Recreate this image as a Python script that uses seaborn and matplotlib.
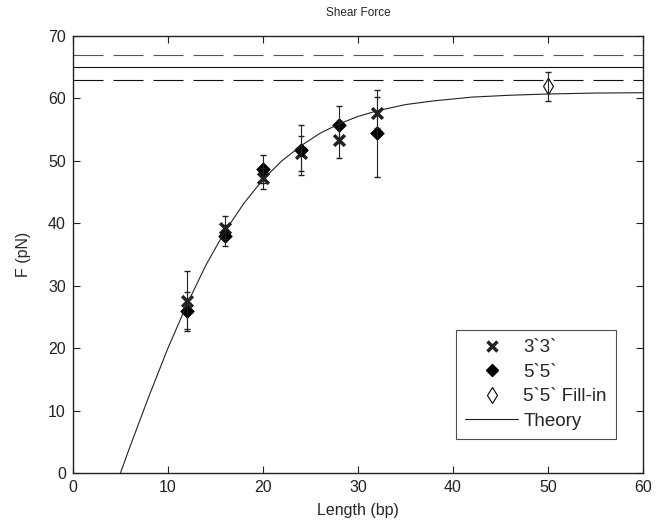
import matplotlib
matplotlib.use("Agg")
import matplotlib.pyplot as plt
from matplotlib.lines import Line2D
import seaborn as sns

# data
len_33 = [12, 16, 20, 24, 28, 32]
force_33 = [27.5, 39.3, 47.2, 51.2, 53.4, 57.7]
err_33 = [4.8, 1.8, 1.7, 2.8, 3.0, 2.5]

len_55 = [12, 16, 20, 24, 28, 32]
force_55 = [26.0, 38.0, 48.7, 51.8, 55.8, 54.4]
err_55 = [3.0, 1.7, 2.2, 4.0, 2.9, 7.0]

len_fill = [50]
force_fill = [61.9]
err_fill = [2.3]

theory_len = [5, 6, 8, 10, 12, 14, 16, 18, 20, 22, 24, 26, 28, 30, 32, 35, 38, 42, 46, 50, 55, 60]
theory_force = [0.0, 4.2, 12.3, 20.0, 27.0, 33.3, 38.7, 43.2, 47.0, 50.0, 52.4, 54.4,
                55.9, 57.1, 58.0, 59.0, 59.6, 60.2, 60.5, 60.7, 60.85, 60.9]

ref_lines = [67, 65, 63]
ref_styles = ["dashed", "solid", "dashed"]
ref_colors = ["#555555", "#111111", "#111111"]

sns.set_theme(style="ticks")
plt.rcParams["font.family"] = ["Liberation Sans", "DejaVu Sans"]

fig = plt.figure(figsize=(6.69, 5.28), dpi=100)
ax = fig.add_axes([0.109, 0.104, 0.852, 0.828])

for yv, ls, c in zip(ref_lines, ref_styles, ref_colors):
    dash = (0, (27, 9)) if ls == "dashed" else "-"
    ax.axhline(yv, color=c, lw=0.8, linestyle=dash)

sns.lineplot(x=theory_len, y=theory_force, ax=ax, color="#222222", lw=0.8)

ax.errorbar(len_33, force_33, yerr=err_33, fmt="none", ecolor="#222222", elinewidth=0.8, capsize=2)
ax.errorbar(len_55, force_55, yerr=err_55, fmt="none", ecolor="#222222", elinewidth=0.8, capsize=2)
ax.errorbar(len_fill, force_fill, yerr=err_fill, fmt="none", ecolor="#222222", elinewidth=0.8, capsize=2)

sns.scatterplot(x=len_33, y=force_33, ax=ax, marker="x", s=60, color="#222222", linewidth=2.5)
sns.scatterplot(x=len_55, y=force_55, ax=ax, marker="D", s=48, color="black", edgecolor="black")
sns.scatterplot(x=len_fill, y=force_fill, ax=ax, marker="d", s=70, facecolor="white",
                edgecolor="black", linewidth=0.8)

ax.set_xlim(0, 60)
ax.set_ylim(0, 70)
ax.set_xticks(range(0, 61, 10))
ax.set_yticks(range(0, 71, 10))
ax.tick_params(direction="in", length=5, width=0.8, top=True, right=True,
               labelsize=11.5, colors="#222222", pad=5)
for sp in ax.spines.values():
    sp.set_visible(True)
    sp.set_linewidth(1.0)
    sp.set_color("#222222")

ax.set_xlabel("Length (bp)", fontsize=11.5, labelpad=6)
ax.set_ylabel("F (pN)", fontsize=11.5, labelpad=12)
ax.set_title("Shear Force", fontsize=8.5, pad=14)

handles = [
    Line2D([], [], marker="x", color="#222222", linestyle="none", markersize=7, mew=2.5),
    Line2D([], [], marker="D", color="black", linestyle="none", markersize=6),
    Line2D([], [], marker="d", markerfacecolor="white", markeredgecolor="black",
           linestyle="none", markersize=8, mew=0.8),
    Line2D([], [], color="#222222", lw=0.8),
]
labels = ["3`3`", "5`5`", "5`5` Fill-in", "Theory"]
leg = ax.legend(handles, labels, loc="lower left", bbox_to_anchor=(0.672, 0.077),
                fontsize=13.5, frameon=True, fancybox=False, borderaxespad=0,
                handlelength=2.8, handletextpad=0.3, labelspacing=0.4, borderpad=0.5)
leg.get_frame().set_edgecolor("#222222")
leg.get_frame().set_linewidth(0.8)

fig.savefig("out.png", dpi=100)
